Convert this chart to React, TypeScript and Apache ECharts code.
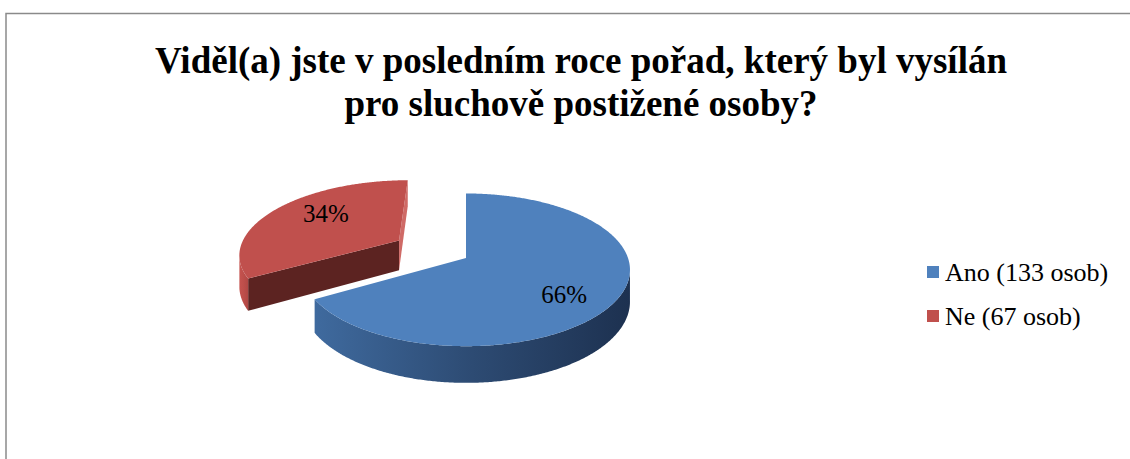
import React, { useEffect, useRef } from 'react';
import * as echarts from 'echarts';

// ---- data ----
const categories = ['Ano', 'Ne'];
const counts = [133, 67];
const percentLabels = ['66%', '34%'];
const titleLines = [
  'Viděl(a) jste v posledním roce pořad, který byl vysílán',
  'pro sluchově postižené osoby?',
];

// ---- style / geometry ----
const TOP_COLORS = ['#4F81BD', '#C0504D'];
const WALL_STOPS = [
  ['#3f6a9e', '#2d4b73', '#1d3150'],
  ['#c5534f', '#bd4e4a', '#b04744'],
];
const CUT_COLORS = [
  ['#2c4a72', '#2a466c'],
  ['#5c2321', '#cf6a66'],
];
const EXPLODE = [0, 80];
const LABEL_F = [0.65, 0.6];
const LABEL_DY = [11, -7.5];
const G = { cx: 466, cy: 258, r: 162, d: 1046, k: 0.46, h: 31, camY: -940 };
const SERIF = 'Liberation Serif';

function project(x: number, y: number, z: number): number[] {
  const s = G.d / (G.d + y);
  return [G.cx + x * s, G.cy - G.k * y * s + z * G.h * s];
}

function renderSlice(i: number) {
  return (params: any, api: any) => {
    const total = counts.reduce((a, b) => a + b, 0);
    const before = counts.slice(0, i).reduce((a, b) => a + b, 0);
    const v = api.value(0);
    const a0 = (before / total) * Math.PI * 2;
    const a1 = ((before + v) / total) * Math.PI * 2;
    const mid = (a0 + a1) / 2;
    const ox = EXPLODE[i] * Math.sin(mid);
    const oy = EXPLODE[i] * Math.cos(mid);
    const R = G.r;
    const rim = (t: number, z: number) => project(ox + R * Math.sin(t), oy + R * Math.cos(t), z);
    const ctr = (z: number) => project(ox, oy, z);
    const children: any[] = [];

    const faces = [
      { a: a0, n: [-Math.cos(a0), Math.sin(a0)], color: CUT_COLORS[i][0] },
      { a: a1, n: [Math.cos(a1), -Math.sin(a1)], color: CUT_COLORS[i][1] },
    ];
    faces.forEach((f) => {
      const px = ox + (R / 2) * Math.sin(f.a);
      const py = oy + (R / 2) * Math.cos(f.a);
      const dot = f.n[0] * (0 - px) + f.n[1] * (G.camY - py);
      if (dot > 0.5) {
        children.push({
          type: 'polygon',
          shape: { points: [ctr(0), rim(f.a, 0), rim(f.a, 1), ctr(1)] },
          style: { fill: f.color },
        });
      }
    });

    const steps = Math.max(2, Math.ceil(((a1 - a0) * 180) / Math.PI / 0.5));
    const runs: number[][] = [];
    let cur: number[] = [];
    for (let k = 0; k <= steps; k++) {
      const t = a0 + ((a1 - a0) * k) / steps;
      const x = ox + R * Math.sin(t);
      const y = oy + R * Math.cos(t);
      const vis = Math.sin(t) * (0 - x) + Math.cos(t) * (G.camY - y) > 0;
      if (vis) cur.push(t);
      else if (cur.length) {
        runs.push(cur);
        cur = [];
      }
    }
    if (cur.length) runs.push(cur);
    runs.forEach((run) => {
      if (run.length < 2) return;
      const topPts = run.map((t) => rim(t, 0));
      const botPts = run.map((t) => rim(t, 1)).reverse();
      const pts = topPts.concat(botPts);
      const xs = pts.map((p) => p[0]);
      const minX = Math.min(...xs);
      const maxX = Math.max(...xs);
      const st = WALL_STOPS[i];
      children.push({
        type: 'polygon',
        shape: { points: pts },
        style: {
          fill: new echarts.graphic.LinearGradient(
            minX, 0, maxX, 0,
            [
              { offset: 0, color: st[0] },
              { offset: 0.5, color: st[1] },
              { offset: 1, color: st[2] },
            ],
            true
          ),
        },
      });
    });

    const topPts: number[][] = [ctr(0)];
    const ts = Math.max(2, Math.ceil(((a1 - a0) * 180) / Math.PI / 0.5));
    for (let k = 0; k <= ts; k++) topPts.push(rim(a0 + ((a1 - a0) * k) / ts, 0));
    children.push({ type: 'polygon', shape: { points: topPts }, style: { fill: TOP_COLORS[i] } });

    const lf = LABEL_F[i] * R;
    const lp = project(ox + lf * Math.sin(mid), oy + lf * Math.cos(mid), 0);
    children.push({
      type: 'text',
      style: {
        text: percentLabels[i],
        x: lp[0] + 2,
        y: lp[1] + LABEL_DY[i],
        align: 'center',
        verticalAlign: 'middle',
        fontFamily: SERIF,
        fontSize: 25,
        fill: '#000',
      },
    });

    return { type: 'group', children };
  };
}

const seriesNames = categories.map((c, i) => `${c} (${counts[i]} osob)`);

const option: any = {
  animation: false,
  backgroundColor: '#ffffff',
  title: {
    text: titleLines.join('\n'),
    left: 581,
    top: 39,
    textAlign: 'center',
    padding: 0,
    textStyle: {
      fontFamily: SERIF,
      fontSize: 37,
      fontWeight: 'bold',
      lineHeight: 43,
      color: '#000',
    },
  },
  legend: {
    orient: 'vertical',
    left: 927,
    top: 259,
    padding: 0,
    itemWidth: 12,
    itemHeight: 12,
    itemGap: 18,
    icon: 'rect',
    data: seriesNames,
    textStyle: { fontFamily: SERIF, fontSize: 26, color: '#000', padding: [0, 0, 0, 1] },
  },
  graphic: [
    {
      type: 'rect',
      silent: true,
      z: -10,
      shape: { x: 6, y: 13.5, width: 1400, height: 700 },
      style: { fill: 'none', stroke: '#8a8a8a', lineWidth: 1.5 },
    },
  ],
  series: categories.map((c, i) => ({
    type: 'custom',
    name: seriesNames[i],
    coordinateSystem: 'none',
    itemStyle: { color: TOP_COLORS[i] },
    renderItem: renderSlice(i),
    data: [counts[i]],
  })),
};

export default function App() {
  const ref = useRef<HTMLDivElement>(null);
  useEffect(() => {
    const chart = echarts.init(ref.current!, null, { renderer: 'svg' });
    chart.setOption(option);
    return () => chart.dispose();
  }, []);
  return (
    <div
      ref={ref}
      style={{ position: 'fixed', left: 0, top: 0, width: 1130, height: 459, background: '#fff' }}
    />
  );
}
